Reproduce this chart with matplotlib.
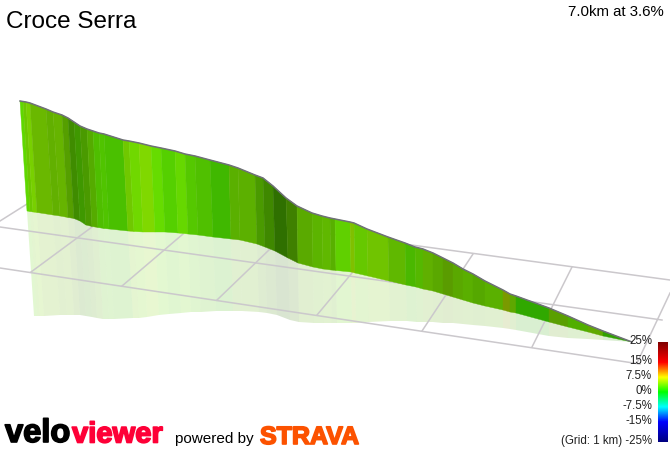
import matplotlib
matplotlib.use('Agg')
import matplotlib.pyplot as plt
import matplotlib.patheffects as pe
import numpy as np
from matplotlib.colors import LinearSegmentedColormap

plt.rcParams['font.family'] = ['Liberation Sans', 'DejaVu Sans']

# Profile, one entry per slat boundary
x_top = [20, 23, 26, 30, 46, 53, 62, 68, 74, 80, 87, 93, 99, 104, 123, 129, 139, 151, 161, 175,
         185, 195, 210, 229, 238, 255, 263, 273, 286, 297, 312, 322, 330, 335, 350, 354, 367, 388, 405, 415,
         423, 433, 443, 453, 463, 473, 485, 503, 510, 516, 549, 568, 588, 603, 632]
x_base = [27, 30, 33, 37, 53, 60, 68, 74, 80, 86, 92, 98, 104, 109, 128, 134, 143, 155, 165, 178,
          188, 198, 213, 231, 240, 257, 265, 275, 288, 298, 313, 323, 331, 336, 351, 355, 368, 389, 406, 416,
          423, 433, 443, 453, 463, 473, 485, 503, 510, 516, 549, 568, 588, 603, 632]
top_y = [101, 101.5, 102, 103, 109, 112, 115, 118, 122, 126, 129, 131, 133, 134, 140, 141, 143, 146, 148, 151,
         154, 156, 160, 165, 168, 175, 178, 186, 198, 206, 213, 216, 218, 219, 222, 223, 229, 237, 243, 247,
         249, 253, 258, 263, 269, 274, 281, 290, 294, 296, 308, 316, 325, 331, 342]
base_y = [211, 211.5, 212, 212.5, 215, 216, 217.5, 218.5, 221, 225, 226.5, 227.5, 228.5, 229, 231, 231.5, 232, 232, 232, 233,
          234, 235, 237, 239, 240, 244, 247, 251, 258, 263, 267, 269, 270, 270.5, 272, 273, 276, 281, 285, 287,
          289, 291, 294, 297, 300, 303, 306, 310, 312, 313, 322, 327, 332, 336, 342]
shadow_y = [316, 316, 316, 316, 315, 315, 315, 315, 316, 317, 318, 319, 319, 319, 318, 318, 317, 315, 314, 313,
            312, 312, 311, 311, 311, 312, 313, 315, 320, 322, 323, 323, 323, 323, 323, 323, 322, 321, 321, 322,
            322, 322, 323, 323, 324, 325, 326, 328, 329, 330, 336, 338, 339, 340, 342]
slat_colors = ['#5fd800', '#6cc800', '#78d000', '#6ab800', '#62b000', '#66b400', '#559f00', '#3f8c00', '#3f9800',
               '#4a9a00', '#55ab00', '#4fbe00', '#50c400', '#4ac000', '#70c800', '#70d800', '#80d800', '#66dc00',
               '#55d000', '#66d800', '#55c800', '#50c000', '#40b800', '#5ab000', '#5cb000', '#4a9a00', '#3f8800',
               '#2f7000', '#3f8000', '#5aaa00', '#5cb400', '#60b800', '#58b000', '#60d000', '#80c000', '#66c800',
               '#70c400', '#60b800', '#4ab800', '#55b800', '#60b000', '#5aa800', '#5a9c00', '#5aa800', '#5aaf00',
               '#55a800', '#5ab000', '#7a9a00', '#5ea800', '#30a800', '#5a9f00', '#50ae00', '#60a800', '#30a000']

# Grid lines, front/back then across
grid_lines = [((0, 227), (662, 320)), ((0, 268), (640, 364)), ((27, 193), (670, 280)),
              ((0, 221), (27, 204)), ((31, 272), (92, 227)), ((122, 286), (183, 234)),
              ((217, 300), (270, 249)), ((317, 315), (352, 273)), ((422, 331), (473, 254)),
              ((532, 347), (572, 267)), ((637, 363), (670, 293))]

scale_labels = ['25%', '15%', '7.5%', '0%', '-7.5%', '-15%', '(Grid: 1 km) -25%']
scale_label_y = [341, 361, 376, 391, 406, 421, 441]
scale_colors = ['#800000', '#ff0000', '#ffff00', '#00ff00', '#00ffff', '#0000ff', '#000080']
scale_stops = [0, 0.2, 0.35, 0.5, 0.65, 0.8, 1]

fig = plt.figure(figsize=(6.7, 4.49), dpi=100)
ax = fig.add_axes([0, 0, 1, 1])
ax.set_xlim(0, 670)
ax.set_ylim(449, 0)
ax.axis('off')

x_shadow = [b + (b - t) for t, b in zip(x_top, x_base)]

# Shadow on the ground
for i, c in enumerate(slat_colors):
    ax.fill([x_base[i], x_base[i + 1], x_shadow[i + 1], x_shadow[i]],
            [base_y[i], base_y[i + 1], shadow_y[i + 1], shadow_y[i]],
            color=c, alpha=0.18, lw=0, zorder=1)

for a, b in grid_lines:
    ax.plot([a[0], b[0]], [a[1], b[1]], color='#cbc8cc', lw=1.1, zorder=2)

# Ribbon
for i, c in enumerate(slat_colors):
    ax.fill([x_top[i], x_top[i + 1], x_base[i + 1], x_base[i]],
            [top_y[i], top_y[i + 1], base_y[i + 1], base_y[i]],
            facecolor=c, edgecolor=c, lw=0.3, zorder=3)
ax.plot(x_top, top_y, color='#6f7078', lw=1.1, zorder=4)

# Gradient scale
cmap = LinearSegmentedColormap.from_list('grad', list(zip(scale_stops, scale_colors)))
ax.imshow(np.linspace(0, 1, 200).reshape(-1, 1), cmap=cmap, extent=(658, 668, 442, 342),
          aspect='auto', zorder=5)
ax.set_xlim(0, 670)
ax.set_ylim(449, 0)
for label, y in zip(scale_labels, scale_label_y):
    ax.text(652, y, label, ha='right', va='center', fontsize=8.3, color='#222222', zorder=6)

ax.text(6, 21.5, 'Croce Serra', fontsize=17.5, ha='left', va='center', color='black')
ax.text(664, 12, '7.0km at 3.6%', fontsize=10.8, ha='right', va='center', color='black')

# Logos
heavy = [pe.withStroke(linewidth=1.2, foreground='black')]
ax.text(5, 442, 'velo', fontsize=23.5, fontweight='bold', color='black', ha='left', va='baseline', path_effects=heavy)
heavy = [pe.withStroke(linewidth=1.2, foreground='#fe0037')]
ax.text(72, 442.5, 'viewer', fontsize=21, fontweight='bold', color='#fe0037', ha='left', va='baseline', path_effects=heavy)
ax.text(175, 443, 'powered by', fontsize=11, color='black', ha='left', va='baseline')
heavy = [pe.withStroke(linewidth=1.2, foreground='#fc5200')]
ax.text(260, 444, 'STRAVA', fontsize=18, fontweight='bold', color='#fc5200', ha='left', va='baseline', path_effects=heavy)

fig.savefig('out.png', dpi=100)
